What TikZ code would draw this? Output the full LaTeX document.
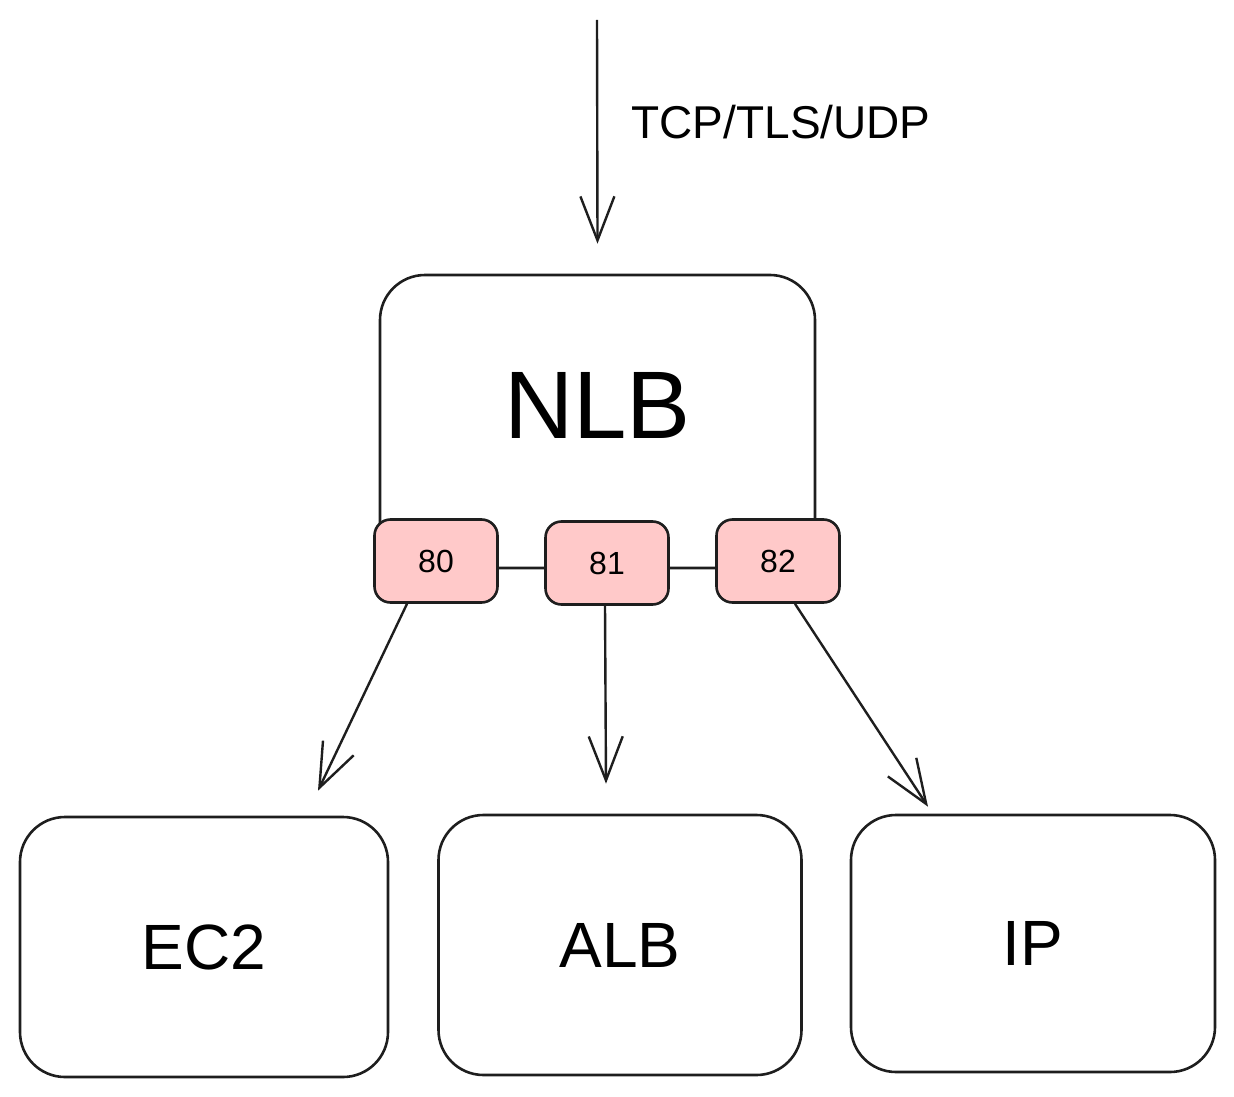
\documentclass[tikz,border=0pt]{standalone}
\usepackage{fontspec}
\setmainfont{Liberation Sans}
\usetikzlibrary{arrows.meta}
\definecolor{ink}{HTML}{1E1E1E}
\definecolor{portpink}{HTML}{FFC9C9}
\begin{document}
\begin{tikzpicture}[x=1pt,y=-1pt,
		box/.style={draw=ink,line width=2.6pt,rounded corners=45pt,inner sep=0pt},
		port/.style={draw=ink,fill=portpink,line width=2.6pt,rounded corners=16pt,
			minimum width=123pt,minimum height=83pt,inner sep=0pt,font=\fontsize{32}{34}\selectfont},
		flow/.style={draw=ink,line width=2.4pt,-{Straight Barb[length=44pt,width=34pt,line width=2.4pt]}}]
		\useasboundingbox (0,0) rectangle (1234,1097);
		\node[box,minimum width=435pt,minimum height=293pt,text depth=32pt,
			font=\fontsize{96}{100}\selectfont] (nlb) at (597.5,421.5) {NLB};
		\node[port] (p80) at (436,561) {80};
		\node[port] (p81) at (607,563) {81};
		\node[port] (p82) at (778,561) {82};
		\node[box,minimum width=368pt,minimum height=260pt,font=\fontsize{64}{68}\selectfont] (ec2) at (204,947) {EC2};
		\node[box,minimum width=363pt,minimum height=260pt,font=\fontsize{64}{68}\selectfont] (alb) at (620,945) {ALB};
		\node[box,minimum width=364pt,minimum height=257pt,font=\fontsize{64}{68}\selectfont] (ip) at (1033,943.5) {IP};
		\coordinate (src) at (597,20);
		\node[anchor=west,font=\fontsize{46}{48}\selectfont] (proto) at (628,122) {TCP/TLS/UDP};
		\draw[flow] (src) -- ([yshift=30pt]nlb.north);
		\draw[flow] ([xshift=-29pt]p80.south) -- ([xshift=114pt,yshift=25pt]ec2.north);
		\draw[flow] ([xshift=-2pt]p81.south) -- ([xshift=-14pt,yshift=30pt]alb.north);
		\draw[flow] ([xshift=17pt]p82.south) -- ([xshift=-105pt,yshift=7pt]ip.north);
\end{tikzpicture}
\end{document}
